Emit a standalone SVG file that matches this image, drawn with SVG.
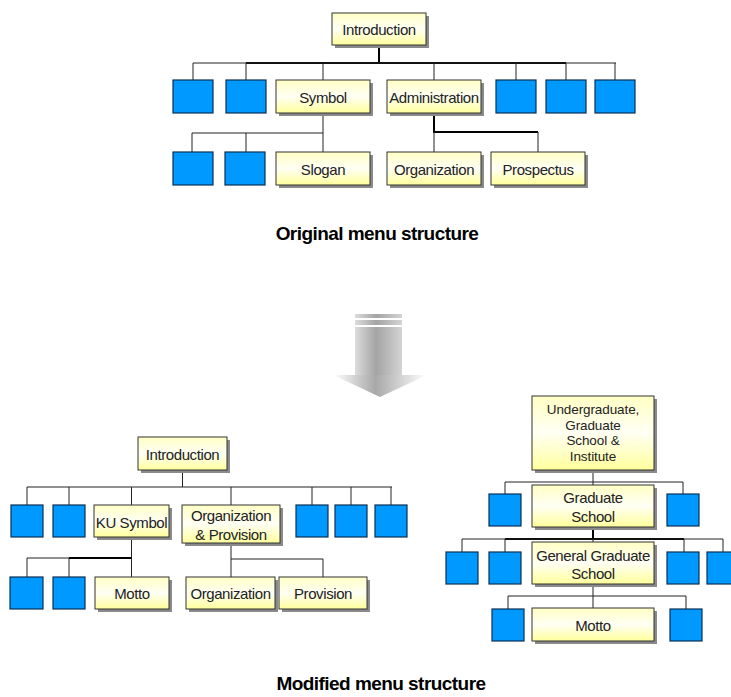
<svg xmlns="http://www.w3.org/2000/svg" width="731" height="697" viewBox="0 0 731 697">
<defs>
<linearGradient id="yg" x1="0" y1="0" x2="0" y2="1">
<stop offset="0" stop-color="#ffffc4"/>
<stop offset="0.5" stop-color="#fffff4"/>
<stop offset="1" stop-color="#ffff9c"/>
</linearGradient>
<linearGradient id="shaft" x1="0" y1="0" x2="1" y2="0">
<stop offset="0" stop-color="#dcdcdc"/>
<stop offset="0.45" stop-color="#a4a4a4"/>
<stop offset="1" stop-color="#d4d4d4"/>
</linearGradient>
<linearGradient id="head" x1="0" y1="0" x2="1" y2="0">
<stop offset="0" stop-color="#ffffff"/>
<stop offset="0.45" stop-color="#a8a8a8"/>
<stop offset="1" stop-color="#ffffff"/>
</linearGradient>
<style>
.y{fill:url(#yg);stroke:#333;stroke-width:1}
.sh{fill:#8a8a8a}
.b{fill:#0099ff;stroke:#0b2f55;stroke-width:1.2}
.t{font-family:"Liberation Sans",Arial,sans-serif;font-size:15px;letter-spacing:-0.4px;fill:#222;text-anchor:middle}
.ts{font-size:13.5px;letter-spacing:-0.1px}
.cap{font-family:"Liberation Sans",Arial,sans-serif;font-size:19px;font-weight:bold;letter-spacing:-0.55px;fill:#000;text-anchor:middle}
.c{fill:none;stroke:#222;stroke-width:1}
.k{fill:none;stroke:#000;stroke-width:2}
</style>
</defs>
<rect width="731" height="697" fill="#fff"/>

<g id="connectors">
<path class="k" d="M379 45V63M246 63H566"/>
<path class="c" d="M193 63H616M193 63V80M246 63V80M323 63V80M434 63V80M516 63V80M566 63V80M615 63V80"/>
<path class="c" d="M323 113V152M323 133H192V152M246 133V152"/>
<path class="k" d="M434 113V132H538"/>
<path class="c" d="M434 132V152M538 132V152"/>
<path class="c" d="M182.5 470V487M27 487H392M27 487V505M69 487V505M131.5 487V505M231 487V505M312 487V505M351 487V505M391 487V505"/>
<path class="c" d="M131.5 537V577M69 558H27V577M69 558V577"/>
<path class="k" d="M131.5 558H69"/>
<path class="c" d="M231 543V577M231 559H323V577"/>
<path class="c" d="M593 470V485M505 482H683M505 482V494M683 482V494"/>
<path class="k" d="M593 527V539M505 539H684"/>
<path class="c" d="M462 539H723M462 539V552M505 539V552M593 539V542M684 539V552M723 539V552"/>
<path class="c" d="M593 584V608M508 596H686M508 596V609M686 596V609"/>
</g>

<g id="t-introduction"><rect class="sh" x="335" y="16" width="94" height="32"/><rect class="y" x="332" y="13" width="94" height="32"/><text class="t" x="379" y="35">Introduction</text></g>
<g id="t-b1"><rect class="b" x="173" y="80" width="40" height="33"/></g>
<g id="t-b2"><rect class="b" x="226" y="80" width="40" height="33"/></g>
<g id="t-symbol"><rect class="sh" x="279" y="83" width="94" height="33"/><rect class="y" x="276" y="80" width="94" height="33"/><text class="t" x="323" y="103">Symbol</text></g>
<g id="t-administration"><rect class="sh" x="390" y="83" width="94" height="33"/><rect class="y" x="387" y="80" width="94" height="33"/><text class="t" x="434" y="103">Administration</text></g>
<g id="t-b3"><rect class="b" x="496" y="80" width="40" height="33"/></g>
<g id="t-b4"><rect class="b" x="546" y="80" width="40" height="33"/></g>
<g id="t-b5"><rect class="b" x="595" y="80" width="40" height="33"/></g>
<g id="t-b6"><rect class="b" x="173" y="152" width="40" height="33"/></g>
<g id="t-b7"><rect class="b" x="225" y="152" width="40" height="33"/></g>
<g id="t-slogan"><rect class="sh" x="279" y="155" width="94" height="33"/><rect class="y" x="276" y="152" width="94" height="33"/><text class="t" x="323" y="175">Slogan</text></g>
<g id="t-organization"><rect class="sh" x="390" y="155" width="94" height="33"/><rect class="y" x="387" y="152" width="94" height="33"/><text class="t" x="434" y="175">Organization</text></g>
<g id="t-prospectus"><rect class="sh" x="494" y="155" width="94" height="33"/><rect class="y" x="491" y="152" width="94" height="33"/><text class="t" x="538" y="175">Prospectus</text></g>
<text class="cap" x="377" y="240">Original menu structure</text>

<g id="arrow">
<rect x="355" y="314" width="47" height="4" fill="url(#shaft)"/>
<rect x="355" y="320" width="47" height="5" fill="url(#shaft)"/>
<rect x="355" y="327" width="47" height="48" fill="url(#shaft)"/>
<polygon points="333,375 427,375 380,397" fill="url(#head)"/>
</g>

<g id="m-introduction"><rect class="sh" x="141" y="440" width="89" height="33"/><rect class="y" x="138" y="437" width="89" height="33"/><text class="t" x="182.5" y="459.5">Introduction</text></g>
<g id="m-b1"><rect class="b" x="11" y="505" width="32" height="32"/></g>
<g id="m-b2"><rect class="b" x="53" y="505" width="32" height="32"/></g>
<g id="m-kusymbol"><rect class="sh" x="97" y="508" width="75" height="32"/><rect class="y" x="94" y="505" width="75" height="32"/><text class="t" x="131.5" y="527.5">KU Symbol</text></g>
<g id="m-orgprov"><rect class="sh" x="185" y="508" width="98" height="38"/><rect class="y" x="182" y="505" width="98" height="38"/><text class="t" x="231" y="520.5">Organization</text><text class="t" x="231" y="540">&amp; Provision</text></g>
<g id="m-b3"><rect class="b" x="296" y="505" width="32" height="32"/></g>
<g id="m-b4"><rect class="b" x="335" y="505" width="32" height="32"/></g>
<g id="m-b5"><rect class="b" x="375" y="505" width="32" height="32"/></g>
<g id="m-b6"><rect class="b" x="10" y="577" width="33" height="32"/></g>
<g id="m-b7"><rect class="b" x="53" y="577" width="32" height="32"/></g>
<g id="m-motto"><rect class="sh" x="98" y="580" width="74" height="32"/><rect class="y" x="95" y="577" width="74" height="32"/><text class="t" x="132" y="599">Motto</text></g>
<g id="m-organization"><rect class="sh" x="189" y="580" width="89" height="32"/><rect class="y" x="186" y="577" width="89" height="32"/><text class="t" x="230.5" y="599">Organization</text></g>
<g id="m-provision"><rect class="sh" x="282" y="580" width="88" height="32"/><rect class="y" x="279" y="577" width="88" height="32"/><text class="t" x="323" y="599">Provision</text></g>

<g id="r-undergrad"><rect class="sh" x="535" y="399" width="122" height="74"/><rect class="y" x="532" y="396" width="122" height="74"/><text class="t ts" x="593" y="414">Undergraduate,</text><text class="t ts" x="593" y="429.5">Graduate</text><text class="t ts" x="593" y="445">School &amp;</text><text class="t ts" x="593" y="460.5">Institute</text></g>
<g id="r-b1"><rect class="b" x="489" y="494" width="32" height="32"/></g>
<g id="r-gradschool"><rect class="sh" x="535" y="488" width="122" height="42"/><rect class="y" x="532" y="485" width="122" height="42"/><text class="t" x="593" y="503">Graduate</text><text class="t" x="593" y="522">School</text></g>
<g id="r-b2"><rect class="b" x="667" y="494" width="32" height="32"/></g>
<g id="r-b3"><rect class="b" x="446" y="552" width="32" height="32"/></g>
<g id="r-b4"><rect class="b" x="489" y="552" width="32" height="32"/></g>
<g id="r-general"><rect class="sh" x="535" y="545" width="122" height="42"/><rect class="y" x="532" y="542" width="122" height="42"/><text class="t" x="593" y="560.5">General Graduate</text><text class="t" x="593" y="579">School</text></g>
<g id="r-b5"><rect class="b" x="667" y="552" width="32" height="32"/></g>
<g id="r-b6"><rect class="b" x="707" y="552" width="32" height="32"/></g>
<g id="r-b7"><rect class="b" x="492" y="609" width="32" height="32"/></g>
<g id="r-motto"><rect class="sh" x="535" y="611" width="122" height="33"/><rect class="y" x="532" y="608" width="122" height="33"/><text class="t" x="593" y="630.5">Motto</text></g>
<g id="r-b8"><rect class="b" x="670" y="609" width="32" height="32"/></g>

<text class="cap" x="381" y="690">Modified menu structure</text>
</svg>
